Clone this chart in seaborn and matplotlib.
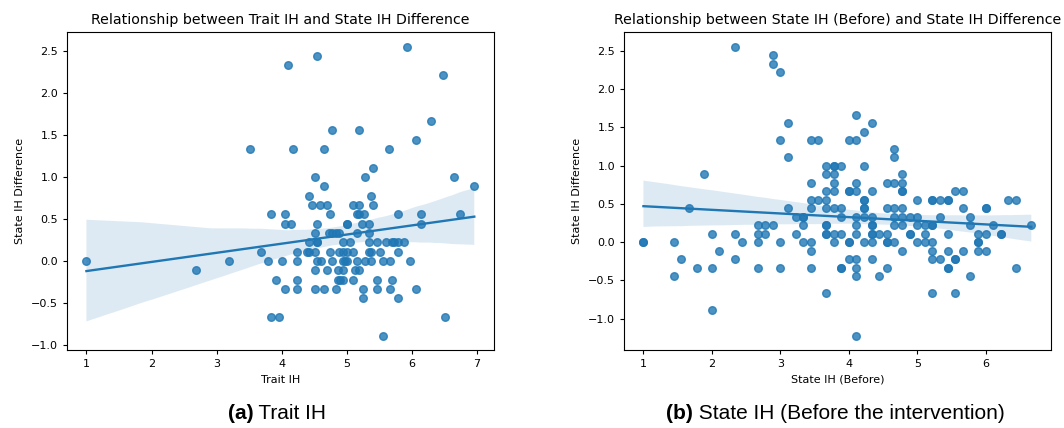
import matplotlib
matplotlib.use("Agg")
import matplotlib.pyplot as plt
import pandas as pd
import seaborn as sns

# Panel (a): Trait IH vs. change in State IH
trait_ih = [
    5.92, 4.55, 4.10, 6.48, 6.29, 4.78, 5.19, 6.06,
    3.51, 4.18, 4.65, 5.65, 5.41, 4.51, 5.28, 6.65,
    4.65, 6.96, 4.42, 5.37,
    4.46, 4.59, 4.69, 5.09, 5.19, 5.41,
    3.83, 4.05, 4.74, 5.16, 5.19, 5.26, 5.78, 6.14, 6.74,
    4.05, 4.14, 4.55, 5.00, 5.00, 5.23, 5.34, 6.14,
    4.51, 4.73, 4.78, 4.83, 4.88, 5.15, 5.34,
    4.42, 4.55, 4.55, 4.95, 5.05, 5.34, 5.46, 5.60, 5.70, 5.73, 5.78, 5.88,
    3.69, 4.24, 4.39, 4.42, 4.51, 4.74, 4.88, 4.95, 5.00, 5.10, 5.34, 5.37, 5.51, 5.78,
    1.00, 3.19, 3.79, 4.01, 4.24, 4.54, 4.60, 4.78, 4.95, 4.97, 5.00, 5.15, 5.28, 5.37, 5.56, 5.66, 5.97,
    2.69, 4.51, 4.69, 4.87, 4.94, 5.12, 5.19,
    3.92, 4.24, 4.87, 4.90, 4.94, 5.10, 5.46, 5.70,
    4.05, 4.24, 4.51, 4.65, 4.83, 5.25, 5.46, 5.66, 6.06,
    5.25, 5.78,
    3.83, 3.96, 6.51,
    5.56,
]
diff_a = [
    2.556, 2.444, 2.333, 2.222, 1.667, 1.556, 1.556, 1.444,
    1.333, 1.333, 1.333, 1.333, 1.111, 1.000, 1.000, 1.000,
    0.889, 0.889, 0.778, 0.778,
    0.667, 0.667, 0.667, 0.667, 0.667, 0.667,
    0.556, 0.556, 0.556, 0.556, 0.556, 0.556, 0.556, 0.556, 0.556,
    0.444, 0.444, 0.444, 0.444, 0.444, 0.444, 0.444, 0.444,
    0.333, 0.333, 0.333, 0.333, 0.333, 0.333, 0.333,
    0.222, 0.222, 0.222, 0.222, 0.222, 0.222, 0.222, 0.222, 0.222, 0.222, 0.222, 0.222,
    0.111, 0.111, 0.111, 0.111, 0.111, 0.111, 0.111, 0.111, 0.111, 0.111, 0.111, 0.111, 0.111, 0.111,
    0.0, 0.0, 0.0, 0.0, 0.0, 0.0, 0.0, 0.0, 0.0, 0.0, 0.0, 0.0, 0.0, 0.0, 0.0, 0.0, 0.0,
    -0.111, -0.111, -0.111, -0.111, -0.111, -0.111, -0.111,
    -0.222, -0.222, -0.222, -0.222, -0.222, -0.222, -0.222, -0.222,
    -0.333, -0.333, -0.333, -0.333, -0.333, -0.333, -0.333, -0.333, -0.333,
    -0.444, -0.444,
    -0.667, -0.667, -0.667,
    -0.889,
]

# Panel (b): State IH before the intervention vs. change in State IH
state_before = [
    2.333, 2.889, 2.889, 3.000, 4.111, 3.111, 4.333, 4.222,
    3.000, 3.444, 3.556, 4.000, 4.111, 4.667, 3.111, 4.667,
    3.667, 3.778, 3.778, 3.889, 4.222,
    1.889, 3.667, 3.778, 4.778,
    3.444, 3.778, 4.111, 4.556, 4.667, 4.778,
    3.667, 3.778, 4.000, 4.000, 4.111, 4.333, 4.778, 4.778, 5.556, 5.667,
    3.444, 3.556, 3.667, 4.222, 4.222, 5.000, 5.222, 5.222, 5.333, 5.444, 5.444, 6.333, 6.444,
    1.667, 3.111, 3.444, 3.667, 3.778, 3.889, 4.222, 4.222, 4.556, 4.667, 4.778, 5.667, 6.000, 6.000,
    3.222, 3.333, 3.333, 3.889, 4.111, 4.222, 4.333, 4.667, 4.778, 4.889, 5.000, 5.333, 5.778,
    2.667, 2.778, 2.889, 3.333, 3.667, 3.667, 4.111, 4.333, 4.333, 4.667, 4.778, 5.000, 5.111,
    5.222, 5.222, 5.778, 6.111, 6.667,
    2.000, 2.333, 2.667, 2.778, 3.222, 3.667, 3.667, 3.778, 3.889, 4.111, 4.333, 4.333, 4.444,
    4.556, 4.889, 4.889, 5.111, 5.444, 5.889, 6.000, 6.222, 6.222,
    1.000, 1.000, 1.444, 2.444, 2.667, 3.000, 3.333, 3.444, 3.778, 4.000, 4.000, 4.222, 4.333,
    4.556, 4.556, 4.667, 5.000, 5.111, 5.222, 5.889, 5.889,
    2.111, 3.444, 4.778, 5.222, 5.444, 5.667, 5.889, 6.000,
    1.556, 2.333, 4.000, 4.111, 4.333, 5.222, 5.333, 5.556, 5.556,
    1.778, 2.000, 2.667, 3.000, 3.444, 3.889, 3.889, 4.111, 4.556, 5.444, 5.444, 6.444,
    1.444, 4.111, 4.444, 5.778,
    3.667, 5.222, 5.556,
    2.000,
    4.111,
]
diff_b = [
    2.556, 2.444, 2.333, 2.222, 1.667, 1.556, 1.556, 1.444,
    1.333, 1.333, 1.333, 1.333, 1.333, 1.222, 1.111, 1.111,
    1.000, 1.000, 1.000, 1.000, 1.000,
    0.889, 0.889, 0.889, 0.889,
    0.778, 0.778, 0.778, 0.778, 0.778, 0.778,
    0.667, 0.667, 0.667, 0.667, 0.667, 0.667, 0.667, 0.667, 0.667, 0.667,
    0.556, 0.556, 0.556, 0.556, 0.556, 0.556, 0.556, 0.556, 0.556, 0.556, 0.556, 0.556, 0.556,
    0.444, 0.444, 0.444, 0.444, 0.444, 0.444, 0.444, 0.444, 0.444, 0.444, 0.444, 0.444, 0.444, 0.444,
    0.333, 0.333, 0.333, 0.333, 0.333, 0.333, 0.333, 0.333, 0.333, 0.333, 0.333, 0.333, 0.333,
    0.222, 0.222, 0.222, 0.222, 0.222, 0.222, 0.222, 0.222, 0.222, 0.222, 0.222, 0.222, 0.222,
    0.222, 0.222, 0.222, 0.222, 0.222,
    0.111, 0.111, 0.111, 0.111, 0.111, 0.111, 0.111, 0.111, 0.111, 0.111, 0.111, 0.111, 0.111,
    0.111, 0.111, 0.111, 0.111, 0.111, 0.111, 0.111, 0.111, 0.111,
    0.0, 0.0, 0.0, 0.0, 0.0, 0.0, 0.0, 0.0, 0.0, 0.0, 0.0, 0.0, 0.0,
    0.0, 0.0, 0.0, 0.0, 0.0, 0.0, 0.0, 0.0,
    -0.111, -0.111, -0.111, -0.111, -0.111, -0.111, -0.111, -0.111,
    -0.222, -0.222, -0.222, -0.222, -0.222, -0.222, -0.222, -0.222, -0.222,
    -0.333, -0.333, -0.333, -0.333, -0.333, -0.333, -0.333, -0.333, -0.333, -0.333, -0.333, -0.333,
    -0.444, -0.444, -0.444, -0.444,
    -0.667, -0.667, -0.667,
    -0.889,
    -1.222,
]

TICK_FS = 8
LABEL_FS = 8
TITLE_FS = 10.2

fig = plt.figure(figsize=(10.64, 4.28), dpi=100)
ax_a = fig.add_axes([0.063, 0.182, 0.401, 0.743])
ax_b = fig.add_axes([0.5865, 0.182, 0.401, 0.743])

df_a = pd.DataFrame({"Trait IH": trait_ih, "State IH Difference": diff_a})
df_b = pd.DataFrame({"State IH (Before)": state_before, "State IH Difference": diff_b})

sns.regplot(data=df_a, x="Trait IH", y="State IH Difference", ax=ax_a,
            scatter_kws={"s": 30}, line_kws={"lw": 1.7}, seed=3)
sns.regplot(data=df_b, x="State IH (Before)", y="State IH Difference", ax=ax_b,
            scatter_kws={"s": 30}, line_kws={"lw": 1.7}, seed=3)

ax_a.set_title("Relationship between Trait IH and State IH Difference", fontsize=TITLE_FS)
ax_b.set_title("Relationship between State IH (Before) and State IH Difference", fontsize=TITLE_FS)

for ax in (ax_a, ax_b):
    ax.tick_params(labelsize=TICK_FS, length=3)
    ax.xaxis.label.set_size(LABEL_FS)
    ax.yaxis.label.set_size(LABEL_FS)
    for s in ax.spines.values():
        s.set_linewidth(0.8)

ax_a.set_yticks([-1.0, -0.5, 0.0, 0.5, 1.0, 1.5, 2.0, 2.5])
ax_b.set_yticks([-1.0, -0.5, 0.0, 0.5, 1.0, 1.5, 2.0, 2.5])

# Sub-figure captions: bold letter followed by regular text
cap_font = ["Liberation Sans", "DejaVu Sans"]
renderer = fig.canvas.get_renderer()


def caption(x_center, letter, text):
    t1 = fig.text(0, 0.035, letter, fontsize=15, fontweight="bold",
                  family=cap_font, va="center", ha="left")
    t2 = fig.text(0, 0.035, text, fontsize=15, family=cap_font,
                  va="center", ha="left")
    w1 = t1.get_window_extent(renderer).width / fig.bbox.width
    w2 = t2.get_window_extent(renderer).width / fig.bbox.width
    x0 = x_center - (w1 + w2) / 2
    t1.set_x(x0)
    t2.set_x(x0 + w1)


caption(0.2605, "(a)", " Trait IH")
caption(0.7855, "(b)", " State IH (Before the intervention)")

fig.savefig("out.png", dpi=100)
